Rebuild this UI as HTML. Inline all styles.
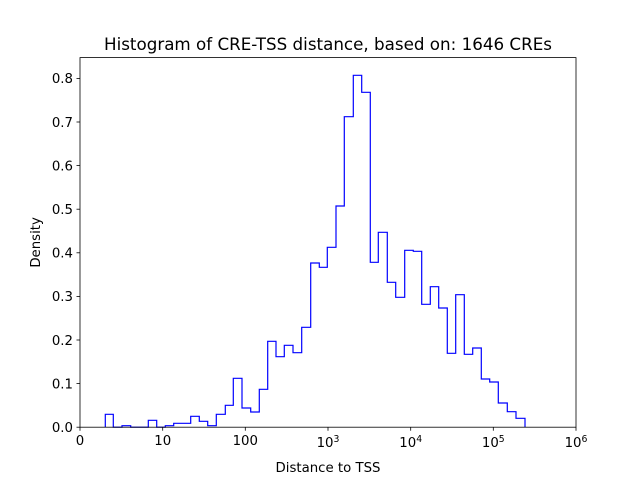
<!DOCTYPE html>
<html><head><meta charset="utf-8"><style>
html,body{margin:0;padding:0;background:#fff;}
svg{display:block;font-family:"DejaVu Sans","Liberation Sans",sans-serif;}
</style></head><body>
<svg width="640" height="480" viewBox="0 0 640 480" xmlns="http://www.w3.org/2000/svg">
<rect width="640" height="480" fill="#fff"/>
<path fill="none" stroke="#0000ff" stroke-width="1.2" stroke-linejoin="miter" d="M105.3,427.2 V414.3 H113.3 V427.2 H122 V425.7 H130.7 V427.2 H148.3 V420.3 H156.7 V427.2 H165.3 V425.7 H173.7 V423.3 H190.7 V416.3 H199.3 V421.3 H207.7 V425.7 H216.3 V414.3 H225.3 V405.3 H233.3 V378.3 H242 V408 H250.7 V412 H259.3 V389.3 H267.7 V341.3 H276 V356.7 H284.3 V345.3 H293 V352.7 H301.7 V327.3 H310.7 V263 H319.3 V267.3 H327.3 V247.3 H336 V206 H344.3 V116.7 H353.3 V75.3 H361.7 V92.3 H370.3 V262.3 H378.3 V232.3 H387.3 V282.3 H395.7 V297.3 H404.7 V250.3 H413.3 V251.3 H421.7 V304.3 H430.3 V286.7 H438.7 V308 H447.3 V353.3 H455.7 V294.7 H464.3 V354.3 H472.7 V348 H481.3 V379 H489.7 V382 H498.3 V403 H507.3 V411.7 H516 V418.3 H525 V427.2"/>
<rect x="80" y="57.6" width="496" height="369.6" fill="none" stroke="#000" stroke-width="0.8"/>
<g stroke="#000" stroke-width="0.8">
<line x1="80" y1="427.2" x2="80" y2="430.7"/><line x1="162.7" y1="427.2" x2="162.7" y2="430.7"/><line x1="245.3" y1="427.2" x2="245.3" y2="430.7"/><line x1="328" y1="427.2" x2="328" y2="430.7"/><line x1="410.7" y1="427.2" x2="410.7" y2="430.7"/><line x1="493.3" y1="427.2" x2="493.3" y2="430.7"/><line x1="576" y1="427.2" x2="576" y2="430.7"/>
<line x1="76.5" y1="427.2" x2="80" y2="427.2"/><line x1="76.5" y1="383.6" x2="80" y2="383.6"/><line x1="76.5" y1="340" x2="80" y2="340"/><line x1="76.5" y1="296.4" x2="80" y2="296.4"/><line x1="76.5" y1="252.8" x2="80" y2="252.8"/><line x1="76.5" y1="209.2" x2="80" y2="209.2"/><line x1="76.5" y1="165.6" x2="80" y2="165.6"/><line x1="76.5" y1="122" x2="80" y2="122"/><line x1="76.5" y1="78.4" x2="80" y2="78.4"/>
</g>
<g font-size="13.3" fill="#000" text-anchor="middle">
<text x="328" y="50" font-size="16.7" textLength="448" lengthAdjust="spacingAndGlyphs">Histogram of CRE-TSS distance, based on: 1646 CREs</text>
</g>
<g font-size="13.3" fill="#000" text-anchor="end">
<text x="73" y="432">0.0</text><text x="73" y="388.4">0.1</text><text x="73" y="344.8">0.2</text><text x="73" y="301.2">0.3</text><text x="73" y="257.6">0.4</text><text x="73" y="214">0.5</text><text x="73" y="170.4">0.6</text><text x="73" y="126.8">0.7</text><text x="73" y="83.2">0.8</text>
</g>
<g font-size="13.3" fill="#000" text-anchor="middle">
<text x="80" y="445">0</text><text x="162.7" y="445">10</text><text x="245.3" y="445">100</text>
<text x="328" y="447">10<tspan font-size="9.3" dy="-5">3</tspan></text>
<text x="410.7" y="447">10<tspan font-size="9.3" dy="-5">4</tspan></text>
<text x="493.3" y="447">10<tspan font-size="9.3" dy="-5">5</tspan></text>
<text x="576" y="447">10<tspan font-size="9.3" dy="-5">6</tspan></text>
<text x="328" y="472">Distance to TSS</text>
<text transform="translate(40,242.4) rotate(-90)">Density</text>
</g>
</svg>
</body></html>
